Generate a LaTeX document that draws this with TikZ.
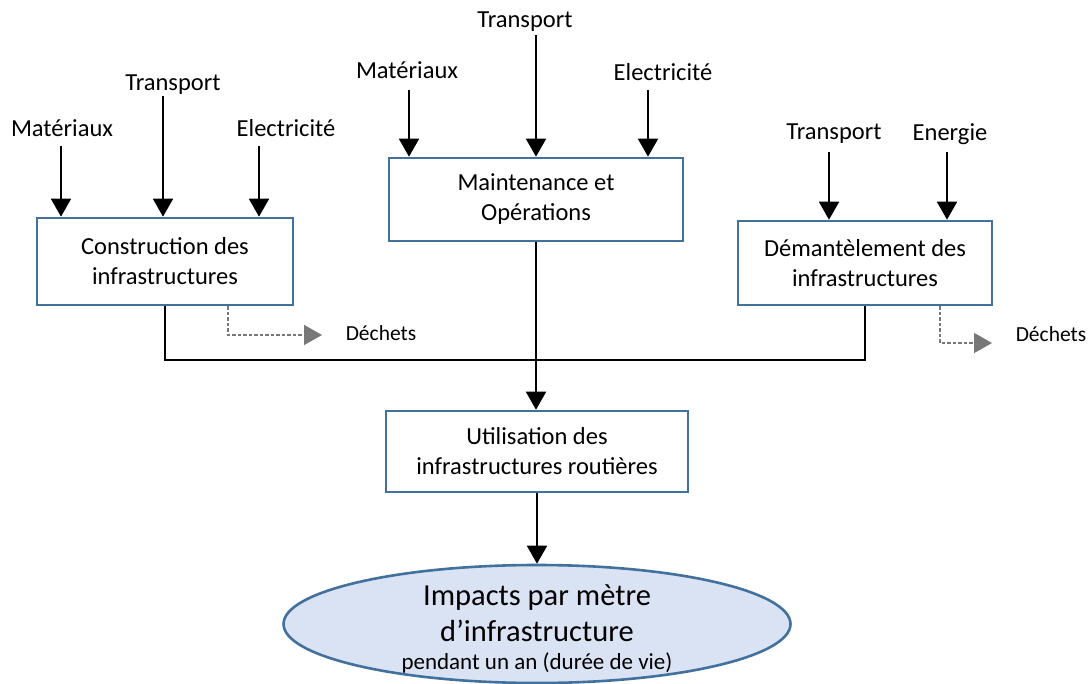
\documentclass[tikz,border=0pt]{standalone}
\usepackage{fontspec}
\setmainfont{Carlito}
\usetikzlibrary{arrows.meta,shapes.geometric}
\definecolor{boxblue}{RGB}{65,113,156}
\definecolor{ellfill}{RGB}{218,227,243}
\definecolor{dgray}{RGB}{120,120,120}
\tikzset{
  procbox/.style={draw=boxblue, line width=2.6pt, fill=white, align=center, inner sep=0pt, font=\fontsize{24.5}{30}\selectfont},
  lbl/.style={inner sep=0pt, font=\fontsize{24.5}{30}\selectfont},
  smalllbl/.style={inner sep=0pt, font=\fontsize{21.5}{26}\selectfont},
  flow/.style={line width=1.8pt, -{Triangle[width=20pt 0 0,length=18pt 0 0]}},
  plain/.style={line width=1.8pt},
  waste/.style={draw=dgray, line width=1.5pt, dash pattern=on 3.5pt off 2pt, -{Triangle[width=20pt 0 0,length=18pt 0 0]}, color=dgray}
}
\begin{document}
\begin{tikzpicture}[x=1pt,y=-1pt]
\useasboundingbox (0,0) rectangle (1089,684);
% boxes
\node[procbox, minimum width=256pt, minimum height=87pt] (cons) at (165,261.5) {Construction des\\infrastructures};
\node[procbox, minimum width=294pt, minimum height=83pt] (main) at (536,199.5) {Maintenance et\\Opérations};
\node[procbox, minimum width=254pt, minimum height=84pt] (dem) at (865,263) {Démantèlement des\\infrastructures};
\node[procbox, minimum width=302pt, minimum height=81pt] (util) at (537,451.5) {Utilisation des\\infrastructures routières};
\node[ellipse, draw=boxblue, line width=2.6pt, fill=ellfill, minimum width=507pt, minimum height=118pt, inner sep=0pt] (imp) at (537,624) {};
\node[align=center, inner sep=0pt, font=\fontsize{30.5}{36}\selectfont] (imptxt) at (537,629) {Impacts par mètre\\d’infrastructure\\[-8pt]{\fontsize{23}{28}\selectfont pendant un an (durée de vie)}};
% labels construction
\node[lbl] (cmat) at (62,128) {Matériaux};
\node[lbl] (ctra) at (173,85) {Transport};
\node[lbl] (cele) at (286,128) {Electricité};
\coordinate (cmat0) at (61,146);
\coordinate (ctra0) at (163,96);
\coordinate (cele0) at (259,146);
\draw[flow] (cmat0) -- (cons.north -| cmat0);
\draw[flow] (ctra0) -- (cons.north -| ctra0);
\draw[flow] (cele0) -- (cons.north -| cele0);
% labels maintenance
\node[lbl] (mmat) at (407,70) {Matériaux};
\node[lbl] (mtra) at (525,22) {Transport};
\node[lbl] (mele) at (663,72) {Electricité};
\coordinate (mmat0) at (409,90);
\coordinate (mtra0) at (536,35);
\coordinate (mele0) at (648,90);
\draw[flow] (mmat0) -- (main.north -| mmat0);
\draw[flow] (mtra0) -- (main.north -| mtra0);
\draw[flow] (mele0) -- (main.north -| mele0);
% labels demantelement
\node[lbl] (dtra) at (834,134) {Transport};
\node[lbl] (dene) at (950,134) {Energie};
\coordinate (dtra0) at (829,152);
\coordinate (dene0) at (947,152);
\draw[flow] (dtra0) -- (dem.north -| dtra0);
\draw[flow] (dene0) -- (dem.north -| dene0);
% waste
\node[smalllbl] (dech1) at (381,333) {Déchets};
\node[smalllbl] (dech2) at (1051,334) {Déchets};
\coordinate (w1) at (228,305);
\coordinate (w1e) at (322,335);
\coordinate (w2) at (940,305);
\coordinate (w2e) at (992,343);
\draw[waste] (cons.south -| w1) |- (w1e);
\draw[waste] (dem.south -| w2) |- (w2e);
% collectors
\coordinate (jn) at (536,360);
\draw[plain] (cons.south) |- (jn) -| (dem.south);
\draw[flow] (main.south) -- (util.north -| main.south);
\draw[flow] (util.south) -- (imp.north);
\end{tikzpicture}
\end{document}
